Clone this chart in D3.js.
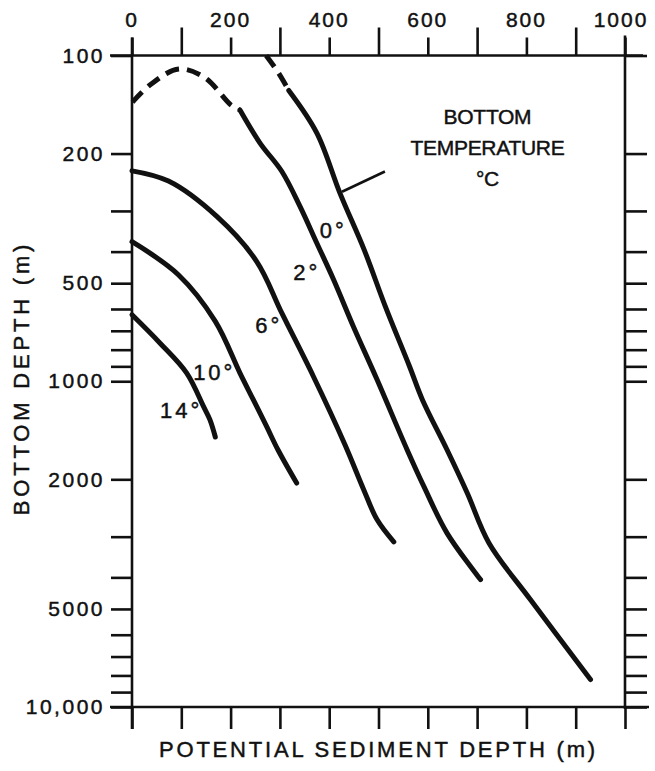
<!DOCTYPE html>
<html>
<head>
<meta charset="utf-8">
<script src="https://cdn.jsdelivr.net/npm/d3@7"></script>
<style>
  body { margin: 0; background: #fff; }
  svg { display: block; }
  text { font-family: "Liberation Sans", Arial, Helvetica, sans-serif; fill: #111; stroke: #111; stroke-width: 0.45; }
</style>
</head>
<body>
<script>
// potential sediment depth (m) vs bottom depth (m), one curve per bottom temperature

var sedTicks = d3.range(0, 1001, 100);
var sedLabels = [0, 200, 400, 600, 800, 1000];
var depthTicks = [100, 200, 300, 400, 500, 600, 700, 800, 900,
  1000, 2000, 3000, 4000, 5000, 6000, 7000, 8000, 9000, 10000];
var depthLabels = [100, 200, 500, 1000, 2000, 5000, 10000];

// [sediment depth, bottom depth]
var t0Dashed = [[272, 100], [297, 113], [318, 128]];
var t0Solid = [[318, 128], [375, 173], [422, 265], [471, 395], [514, 590],
  [563, 901], [589, 1139], [639, 1623], [680, 2203], [724, 3136], [808, 4680], [930, 8234]];
var t2Dashed = [[1, 139], [37, 123], [95, 110], [148, 117], [201, 142], [219, 147]];
var t2Solid = [[219, 147], [260, 186], [304, 227], [341, 291], [375, 377], [409, 488],
  [449, 679], [497, 988], [558, 1622], [592, 2103], [639, 2925], [707, 4064]];
var t6 = [[0, 226], [74, 243], [172, 312], [253, 429], [304, 618], [368, 967],
  [432, 1566], [470, 2152], [497, 2659], [531, 3113]];
var t10 = [[0, 373], [94, 471], [169, 655], [219, 944], [246, 1139], [273, 1376],
  [296, 1623], [334, 2053]];
var t14 = [[0, 625], [57, 764], [111, 944], [145, 1195], [158, 1312], [169, 1483]];

var curveLabels = [
  { text: '0°', x: 381, y: 363 },
  { text: '2°', x: 327, y: 488 },
  { text: '6°', x: 250, y: 710 },
  { text: '10°', x: 124, y: 989 },
  { text: '14°', x: 57, y: 1294 }
];
var legendLines = ['BOTTOM', 'TEMPERATURE', '°C'];
var pointer = [[426, 262], [513, 227]];

var width = 655,
  height = 771,
  mLeft = 132,
  mRight = 625,
  mTop = 55.5,
  mBottom = 707;

var svg = d3.select('body').append('svg')
  .attr('width', width)
  .attr('height', height);

svg.append('rect').attr('width', width).attr('height', height).attr('fill', '#fff');

var x = d3.scaleLinear().domain([0, 1000]).range([mLeft, mRight]);
var y = d3.scaleLog().domain([100, 10000]).range([mTop, mBottom]);

var ink = '#111';

// frame, with the end ticks running through the corners
var frame = svg.append('g').attr('stroke', ink).attr('stroke-width', 2.6).attr('fill', 'none');
frame.append('line').attr('x1', mLeft - 22).attr('x2', mRight + 18).attr('y1', mTop).attr('y2', mTop);
frame.append('line').attr('x1', mLeft - 22).attr('x2', mRight + 24).attr('y1', mBottom).attr('y2', mBottom);
frame.append('line').attr('x1', mLeft).attr('x2', mLeft).attr('y1', mTop - 18).attr('y2', mBottom + 22);
frame.append('line').attr('x1', mRight).attr('x2', mRight).attr('y1', mTop - 20).attr('y2', mBottom + 2);

// top axis: labelled ticks shorter than the others
svg.append('g')
  .attr('transform', 'translate(0,' + mTop + ')')
  .call(d3.axisTop(x).tickValues(sedTicks).tickSizeOuter(0)
    .tickSizeInner(0).tickFormat(''))
  .call(function (g) {
    g.select('.domain').remove();
    g.selectAll('.tick line')
      .attr('y2', function (d) { return sedLabels.indexOf(d) >= 0 ? -18 : -28; })
      .attr('stroke', ink).attr('stroke-width', 2.6);
  });

svg.append('g')
  .selectAll('text')
  .data(sedLabels)
  .enter()
  .append('text')
  .attr('x', function (d) { return x(d) + (d === 1000 ? -4 : 0); })
  .attr('y', 27)
  .attr('text-anchor', 'middle')
  .attr('font-size', 21)
  .attr('letter-spacing', 2)
  .text(function (d) { return d; });

// bottom axis ticks only
svg.append('g')
  .attr('transform', 'translate(0,' + mBottom + ')')
  .call(d3.axisBottom(x).tickValues(sedTicks).tickSizeOuter(0).tickSize(22).tickFormat(''))
  .call(function (g) {
    g.select('.domain').remove();
    g.selectAll('.tick line').attr('stroke', ink).attr('stroke-width', 2.6);
  });

// left axis with labels
svg.append('g')
  .attr('transform', 'translate(' + mLeft + ',0)')
  .call(d3.axisLeft(y).tickValues(depthTicks).tickSizeOuter(0).tickSize(21)
    .tickPadding(6)
    .tickFormat(function (d) {
      if (depthLabels.indexOf(d) < 0) return '';
      return d === 10000 ? '10,000' : String(d);
    }))
  .call(function (g) {
    g.select('.domain').remove();
    g.selectAll('.tick line').attr('stroke', ink).attr('stroke-width', 2.6);
    g.selectAll('.tick text')
      .attr('font-size', 21)
      .attr('letter-spacing', 2.5)
      .attr('font-family', '"Liberation Sans", Arial, sans-serif')
      .attr('fill', ink);
  });

// right axis ticks
svg.append('g')
  .attr('transform', 'translate(' + mRight + ',0)')
  .call(d3.axisRight(y).tickValues(depthTicks).tickSizeOuter(0).tickSize(22).tickFormat(''))
  .call(function (g) {
    g.select('.domain').remove();
    g.selectAll('.tick line').attr('stroke', ink).attr('stroke-width', 2.6);
  });

// axis titles
svg.append('text')
  .attr('transform', 'translate(29,378) rotate(-90)')
  .attr('text-anchor', 'middle')
  .attr('font-size', 22)
  .attr('letter-spacing', 3.8)
  .text('BOTTOM DEPTH (m)');

svg.append('text')
  .attr('x', (mLeft + mRight) / 2)
  .attr('y', 757)
  .attr('text-anchor', 'middle')
  .attr('font-size', 22)
  .attr('letter-spacing', 2.8)
  .text('POTENTIAL SEDIMENT DEPTH (m)');

// curves
var line = d3.line()
  .x(function (d) { return x(d[0]); })
  .y(function (d) { return y(d[1]); })
  .curve(d3.curveCatmullRom.alpha(0.5));

var curves = svg.append('g')
  .attr('fill', 'none')
  .attr('stroke', ink)
  .attr('stroke-width', 5)
  .attr('stroke-linecap', 'round')
  .attr('stroke-linejoin', 'round');

[t0Solid, t2Solid, t6, t10, t14].forEach(function (c) {
  curves.append('path').attr('d', line(c));
});
[t0Dashed, t2Dashed].forEach(function (c) {
  curves.append('path')
    .attr('d', line(c))
    .attr('stroke-linecap', 'butt')
    .attr('stroke-dasharray', '14,8');
});

// curve labels
svg.append('g')
  .selectAll('text')
  .data(curveLabels)
  .enter()
  .append('text')
  .attr('x', function (d) { return x(d.x); })
  .attr('y', function (d) { return y(d.y); })
  .attr('font-size', 22)
  .attr('letter-spacing', 3)
  .text(function (d) { return d.text; });

// legend
svg.append('path')
  .attr('d', d3.line()(pointer.map(function (p) { return [x(p[0]), y(p[1])]; })))
  .attr('stroke', ink)
  .attr('stroke-width', 2.6);

svg.append('g')
  .selectAll('text')
  .data(legendLines)
  .enter()
  .append('text')
  .attr('x', x(721))
  .attr('y', function (d, i) { return 124 + i * 31; })
  .attr('text-anchor', 'middle')
  .attr('font-size', 21)
  .attr('letter-spacing', -0.3)
  .text(function (d) { return d; });
</script>
</body>
</html>
